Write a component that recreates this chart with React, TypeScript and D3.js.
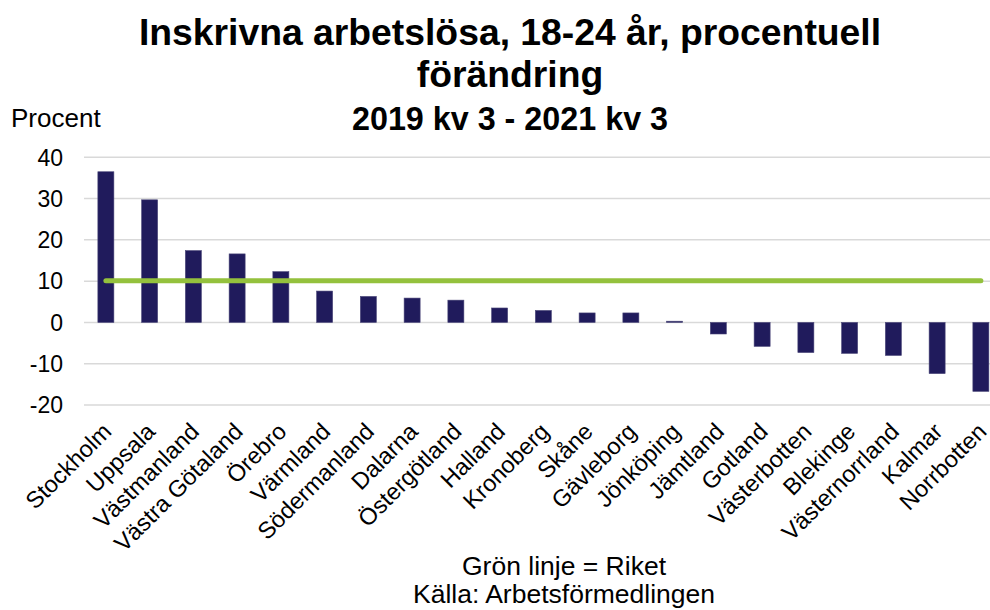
import * as d3 from "d3";
import { useEffect, useRef } from "react";

const regions = [
  "Stockholm", "Uppsala", "Västmanland", "Västra Götaland", "Örebro", "Värmland",
  "Södermanland", "Dalarna", "Östergötland", "Halland", "Kronoberg", "Skåne",
  "Gävleborg", "Jönköping", "Jämtland", "Gotland", "Västerbotten", "Blekinge",
  "Västernorrland", "Kalmar", "Norrbotten",
];
const change = [
  36.5, 29.7, 17.4, 16.6, 12.3, 7.6, 6.3, 5.9, 5.4, 3.5, 2.9, 2.3,
  2.3, 0.3, -2.8, -5.8, -7.3, -7.5, -8.0, -12.4, -16.7,
];
const riket = 10.1;
const yTicks = [-20, -10, 0, 10, 20, 30, 40];

const W = 990;
const H = 610;
const font = "Arial, 'Liberation Sans', sans-serif";

export default function App() {
  const ref = useRef<SVGSVGElement>(null);

  useEffect(() => {
    const svg = d3.select(ref.current);
    svg.selectAll("*").remove();

    const x = d3
      .scaleBand()
      .domain(regions)
      .range([84, 84 + 21 * 43.75])
      .paddingInner(0.634)
      .paddingOuter(0.317);
    const y = d3.scaleLinear().domain([-20, 40]).range([405, 157.3]);

    // grid
    svg
      .append("g")
      .selectAll("line")
      .data(yTicks)
      .join("line")
      .attr("x1", 84)
      .attr("x2", W)
      .attr("y1", (d) => y(d))
      .attr("y2", (d) => y(d))
      .attr("stroke", "#d9d9d9")
      .attr("stroke-width", 1.5);

    svg
      .append("g")
      .attr("font-family", font)
      .attr("font-size", 23)
      .attr("text-anchor", "end")
      .selectAll("text")
      .data(yTicks)
      .join("text")
      .attr("x", 63)
      .attr("y", (d) => y(d))
      .attr("dy", "0.36em")
      .text((d) => d);

    // bars
    svg
      .append("g")
      .selectAll("rect")
      .data(change)
      .join("rect")
      .attr("x", (_, i) => x(regions[i])!)
      .attr("width", x.bandwidth())
      .attr("y", (d) => y(Math.max(0, d)))
      .attr("height", (d) => Math.abs(y(d) - y(0)))
      .attr("fill", "#201b5c")
      .attr("stroke", "#4a4778")
      .attr("stroke-width", 0.6);

    // riket line
    const cx = (r: string) => x(r)! + x.bandwidth() / 2;
    svg
      .append("line")
      .attr("x1", cx(regions[0]))
      .attr("x2", cx(regions[regions.length - 1]))
      .attr("y1", y(riket))
      .attr("y2", y(riket))
      .attr("stroke", "#94c13d")
      .attr("stroke-width", 5)
      .attr("stroke-linecap", "round");

    // category labels
    svg
      .append("g")
      .attr("font-family", font)
      .attr("font-size", 23.5)
      .attr("text-anchor", "end")
      .selectAll("text")
      .data(regions)
      .join("text")
      .attr("transform", (d) => `translate(${cx(d) + 7},433) rotate(-45)`)
      .text((d) => d);

    // titles
    const t = svg
      .append("g")
      .attr("font-family", font)
      .attr("text-anchor", "middle");
    t.append("text")
      .attr("x", 510)
      .attr("y", 45)
      .attr("font-size", 37.3)
      .attr("font-weight", "bold")
      .text("Inskrivna arbetslösa, 18-24 år, procentuell");
    t.append("text")
      .attr("x", 510)
      .attr("y", 87)
      .attr("font-size", 37.3)
      .attr("font-weight", "bold")
      .text("förändring");
    t.append("text")
      .attr("x", 510)
      .attr("y", 130)
      .attr("font-size", 32.3)
      .attr("font-weight", "bold")
      .text("2019 kv 3 - 2021 kv 3");
    t.append("text")
      .attr("x", 564)
      .attr("y", 575)
      .attr("font-size", 26.5)
      .text("Grön linje = Riket");
    t.append("text")
      .attr("x", 564)
      .attr("y", 603)
      .attr("font-size", 26.5)
      .text("Källa: Arbetsförmedlingen");

    svg
      .append("text")
      .attr("x", 11)
      .attr("y", 127)
      .attr("font-family", font)
      .attr("font-size", 26)
      .text("Procent");
  }, []);

  return (
    <svg
      ref={ref}
      width={W}
      height={H}
      style={{ position: "absolute", left: 0, top: 0, background: "#fff" }}
    />
  );
}
